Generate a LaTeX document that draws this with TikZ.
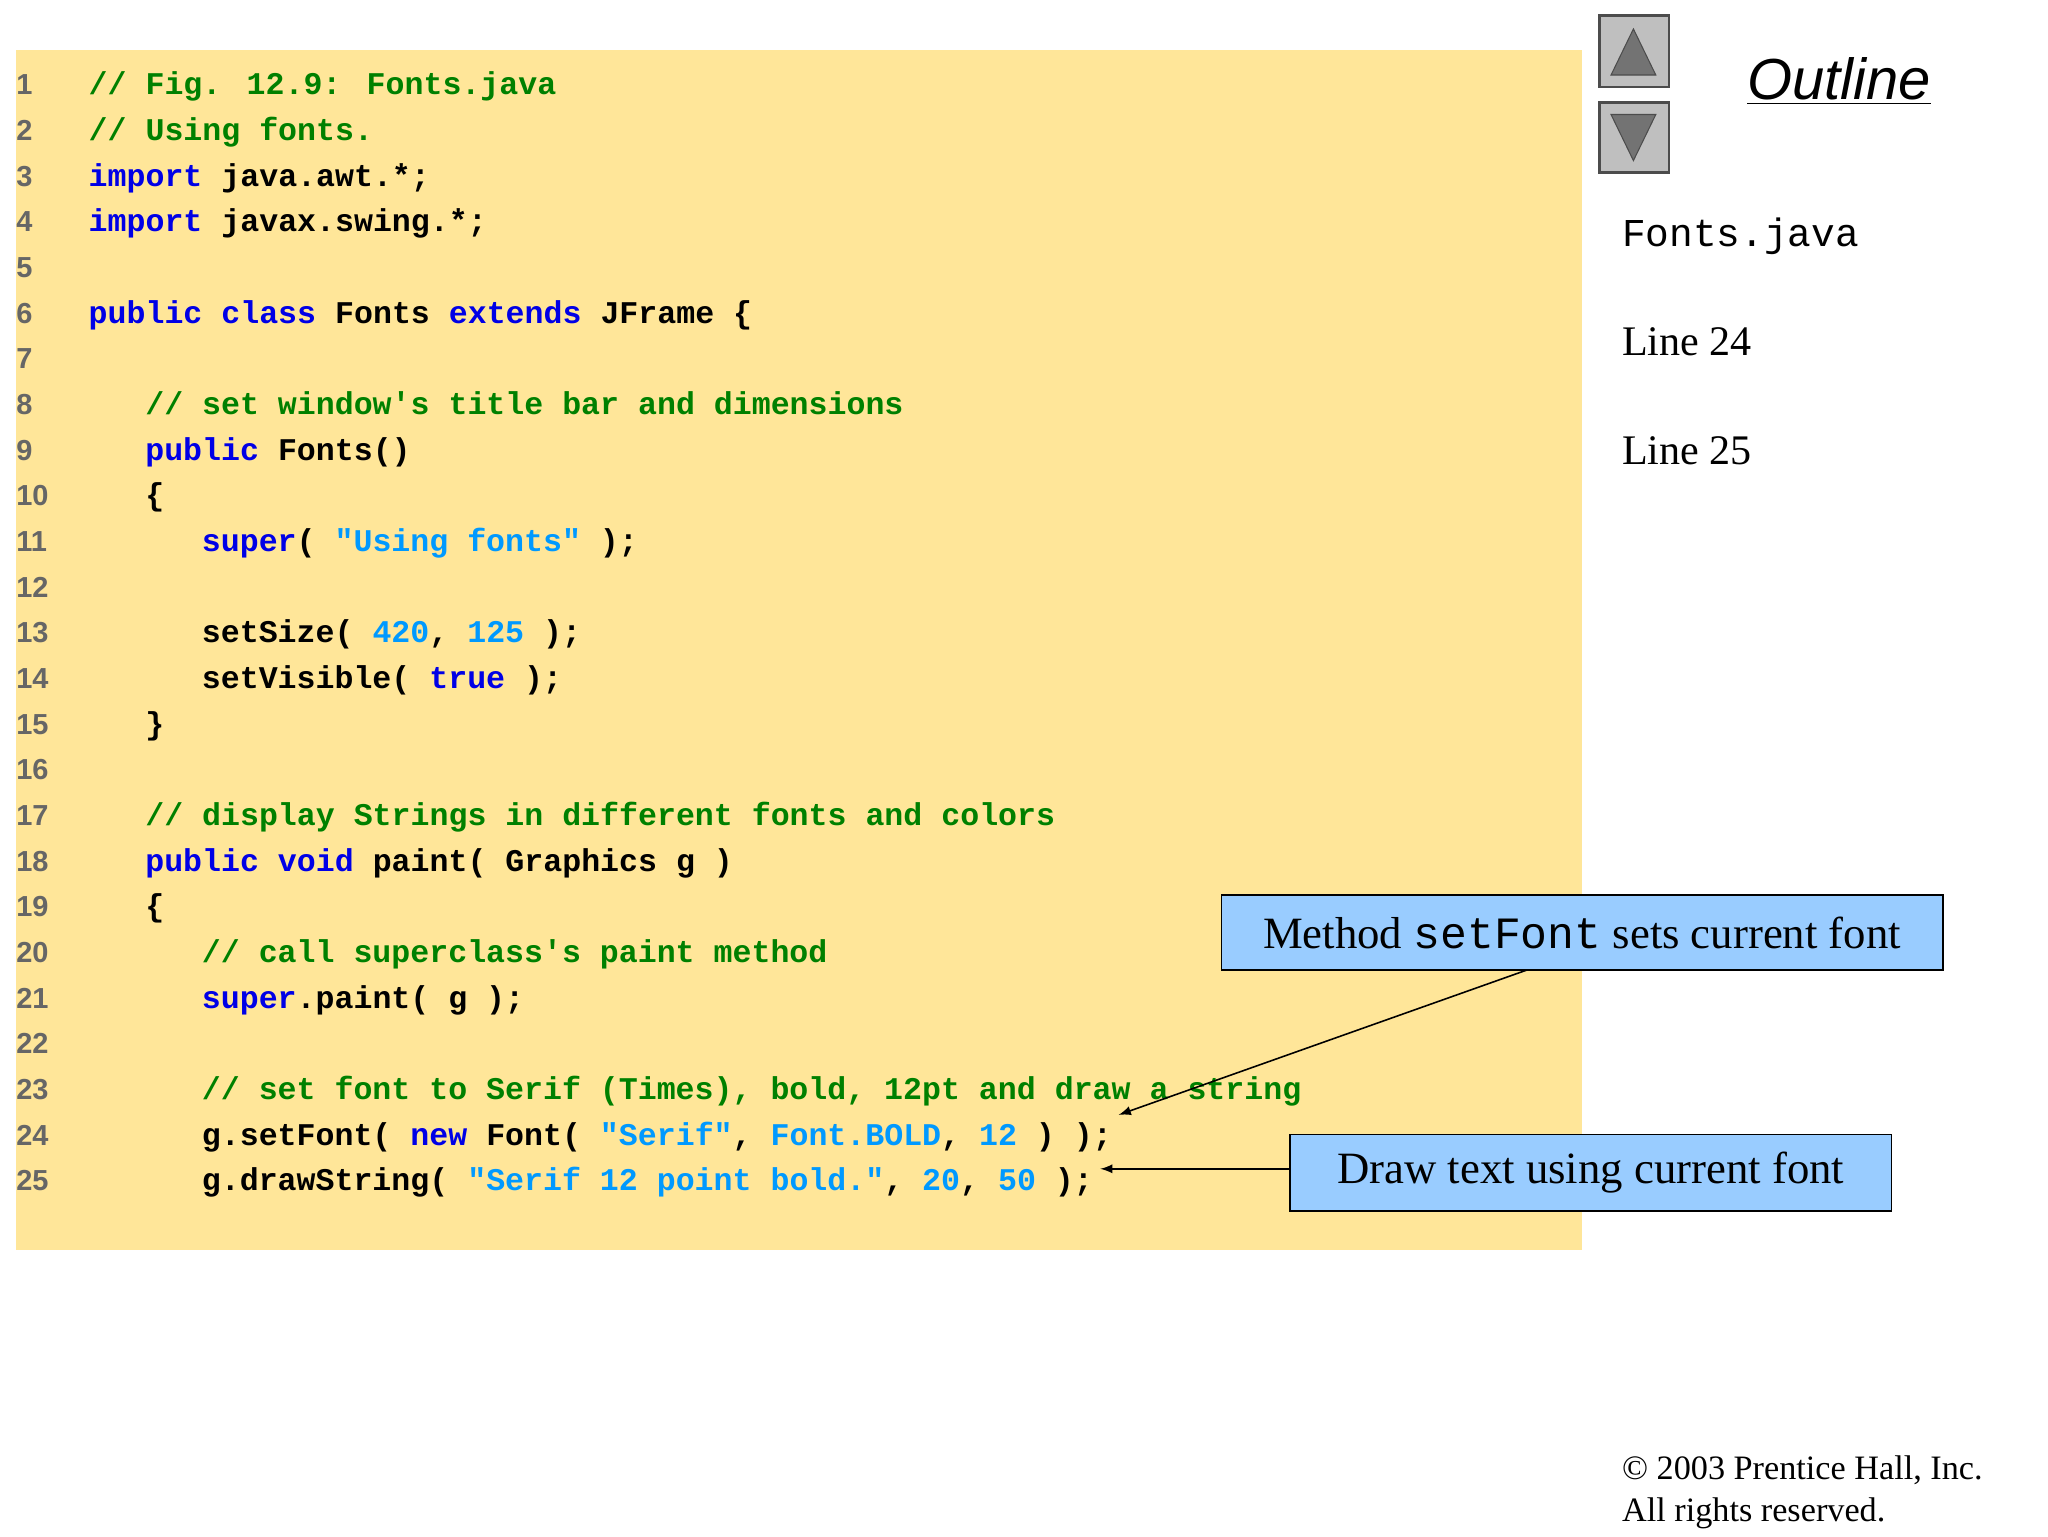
\documentclass[tikz,border=0pt]{standalone}
\usepackage{fontspec}
\setmainfont{Liberation Serif}
\newfontfamily\codef{Liberation Mono}[FakeBold=0]
\newfontfamily\numf{Liberation Sans}
\definecolor{bgy}{HTML}{FFE699}
\definecolor{cgreen}{HTML}{008000}
\definecolor{cblue}{HTML}{0000E6}
\definecolor{cstr}{HTML}{0099FF}
\definecolor{cbox}{HTML}{99CCFF}
\newcommand{\kw}[1]{\textcolor{cblue}{#1}}
\newcommand{\cm}[1]{\textcolor{cgreen}{#1}}
\newcommand{\st}[1]{\textcolor{cstr}{#1}}
\begin{document}
\begin{tikzpicture}[x=0.5pt,y=-0.5pt,
  num/.style={anchor=base west,inner sep=0,font=\numf\bfseries\fontsize{11}{13}\selectfont,text=black!60},
  code/.style={anchor=base west,inner sep=0,font=\codef\bfseries\fontsize{12}{14}\selectfont},
  callout/.style={draw=black,fill=cbox,line width=0.6pt,inner sep=0,font=\fontsize{17}{20}\selectfont},
  btn/.style={draw=black!70,fill=black!25,line width=1pt}]
\useasboundingbox (0,0) rectangle (1556,1167);
\fill[bgy] (12,38) rectangle (1202,950);
\foreach \n in {1,...,25}{\node[num] (N\n) at (12,{72+34.7*(\n-1)}) {\n};}
\newcommand{\cl}[3]{\node[code] (L#1) at ({67+43*#2},{72+34.7*(#1-1)}) {#3};}
\cl{1}{0}{\cm{// Fig. 12.9: Fonts.java}}
\cl{2}{0}{\cm{// Using fonts.}}
\cl{3}{0}{\kw{import} java.awt.*;}
\cl{4}{0}{\kw{import} javax.swing.*;}
\cl{6}{0}{\kw{public class} Fonts \kw{extends} JFrame \{}
\cl{8}{1}{\cm{// set window's title bar and dimensions}}
\cl{9}{1}{\kw{public} Fonts()}
\cl{10}{1}{\{}
\cl{11}{2}{\kw{super}( \st{"Using fonts"} );}
\cl{13}{2}{setSize( \st{420}, \st{125} );}
\cl{14}{2}{setVisible( \kw{true} );}
\cl{15}{1}{\}}
\cl{17}{1}{\cm{// display Strings in different fonts and colors}}
\cl{18}{1}{\kw{public void} paint( Graphics g )}
\cl{19}{1}{\{}
\cl{20}{2}{\cm{// call superclass's paint method}}
\cl{21}{2}{\kw{super}.paint( g );}
\cl{23}{2}{\cm{// set font to Serif (Times), bold, 12pt and draw a string}}
\cl{24}{2}{g.setFont( \kw{new} Font( \st{"Serif"}, \st{Font.BOLD}, \st{12} ) );}
\cl{25}{2}{g.drawString( \st{"Serif 12 point bold."}, \st{20}, \st{50} );}
% right panel
\draw[btn] (1215,12) rectangle (1268,66);
\draw[btn] (1215,78) rectangle (1268,131);
\draw[black!70,fill=black!55] (1224,57) -- (1241,22) -- (1258,57) -- cycle;
\draw[black!70,fill=black!55] (1224,87) -- (1241,122) -- (1258,87) -- cycle;
\node[inner sep=0,font=\numf\itshape\fontsize{22}{26}\selectfont] (outline) at (1397,62) {\underline{Outline}};
\node[anchor=base west,inner sep=0,font=\codef\fontsize{15}{18}\selectfont] (fj) at (1232,187) {Fonts.java};
\node[anchor=base west,inner sep=0,font=\fontsize{16}{19}\selectfont] (l24) at (1232,270) {Line 24};
\node[anchor=base west,inner sep=0,font=\fontsize{16}{19}\selectfont] (l25) at (1232,353) {Line 25};
\node[anchor=base west,inner sep=0,font=\fontsize{13}{15}\selectfont] (c1) at (1232,1124) {\textcopyright{} 2003 Prentice Hall, Inc.};
\node[anchor=base west,inner sep=0,font=\fontsize{13}{15}\selectfont] (c2) at (1232,1156) {All rights reserved.};
% callouts
\node[callout,minimum width=548*0.5pt,minimum height=57*0.5pt] (b1) at (1202,708.5) {Method {\codef setFont} sets current font};
\node[callout,minimum width=457*0.5pt,minimum height=58*0.5pt] (b2) at (1208.5,891) {Draw text using current font};
\coordinate (t1) at (850,847);
\coordinate (t2) at (836,888);
\draw[-latex,line width=0.6pt] (1160,737) -- (t1);
\draw[-latex,line width=0.6pt] (b2.west |- 0,888) -- (t2);
\end{tikzpicture}
\end{document}
